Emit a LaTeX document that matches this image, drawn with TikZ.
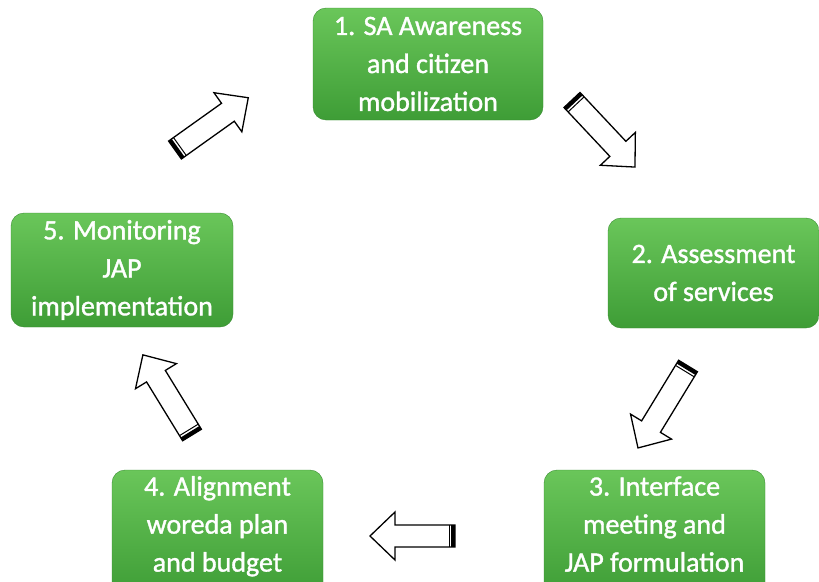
\documentclass[tikz,border=0pt]{standalone}
\usepackage{fontspec}
\setmainfont[FakeBold=1.3]{Carlito}
\usetikzlibrary{calc}
\definecolor{gtop}{HTML}{6AC65A}
\definecolor{gbot}{HTML}{3E9D36}
\tikzset{
  stage/.style={rounded corners=13pt, top color=gtop, bottom color=gbot, draw=gbot!90!black, line width=0.4pt,
    text=white, align=center, inner sep=0pt, font=\fontsize{28}{38}\selectfont},
  sarrow/.pic={
    \draw[fill=white, line width=1.3pt, line join=miter]
      (0,-11) -- (#1-25,-11) -- (#1-25,-24) -- (#1,0) -- (#1-25,24) -- (#1-25,11) -- (0,11) -- cycle;
    \fill[black] (0,-11) rectangle (3.8,11);
    \draw[line width=1pt] (6,-11) -- (6,11);
  }
}
\newcommand\upbox[1]{\raisebox{7pt}[\height][\depth]{\begin{tabular}{@{}c@{}}#1\end{tabular}}}
\begin{document}
\begin{tikzpicture}[x=1pt,y=-1pt]
\useasboundingbox (0,0) rectangle (819,581);
\node[stage, minimum width=230pt, minimum height=112pt] (s1) at (428,64) {1. SA Awareness\\and citizen\\mobilization};
\node[stage, minimum width=211pt, minimum height=110pt] (s2) at (713.5,273) {2. Assessment\\of services};
\node[stage, minimum width=221pt, minimum height=126pt] (s3) at (654.5,533) {\upbox{3. Interface\\meeting and\\JAP formulation}};
\node[stage, minimum width=211pt, minimum height=126pt] (s4) at (217.5,533) {\upbox{4. Alignment\\woreda plan\\and budget}};
\node[stage, minimum width=222pt, minimum height=114pt] (s5) at (122,270) {5. Monitoring\\JAP\\implementation};
\coordinate (tA) at (572,100);
\coordinate (tB) at (175,150);
\coordinate (tC) at (688,366);
\coordinate (tD) at (455,536);
\coordinate (tE) at (192,435);
\pic[rotate=-46.8] at (tA) {sarrow={92}};
\pic[rotate=35.5] at (tB) {sarrow={90}};
\pic[rotate=-121.4] at (tC) {sarrow={96}};
\pic[rotate=180] at (tD) {sarrow={85}};
\pic[rotate=121.5] at (tE) {sarrow={94}};
\end{tikzpicture}
\end{document}
